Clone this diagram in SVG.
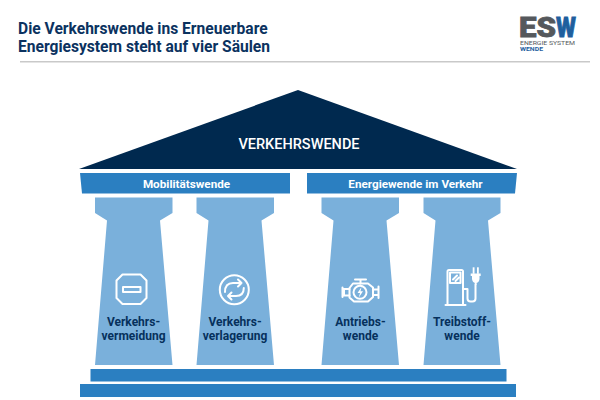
<svg xmlns="http://www.w3.org/2000/svg" width="600" height="400" viewBox="0 0 600 400">
<style>
text{font-family:Roboto,"Liberation Sans",sans-serif}
.title{font-size:15.6px;font-weight:700;fill:#0b3260}
.band{fill:#2b7fc1}
.pillar{fill:#7ab0db}
.bandt{font-size:11.700px;font-weight:700;fill:#fff;text-anchor:middle}
.lab{font-size:12px;font-weight:700;fill:#06305c;text-anchor:middle}
.ic{fill:none;stroke:#fff;stroke-width:2;stroke-linejoin:round;stroke-linecap:round}
.icf{fill:#fff}
</style>
<rect width="600" height="400" fill="#fff"/>
<g id="header">
<text class="title" x="18" y="34">Die Verkehrswende ins Erneuerbare</text>
<text class="title" x="18" y="52">Energiesystem steht auf vier Säulen</text>
<rect x="20" y="61" width="570" height="1.500" fill="#c9c9c9"/>
</g>
<g id="logo">
<text x="519" y="37" font-size="28" font-weight="900" fill="#55585c" stroke="#55585c" stroke-width=".8" textLength="37" lengthAdjust="spacingAndGlyphs">ES</text>
<text x="556" y="37" font-size="28" font-weight="900" fill="#1f5f9e" stroke="#1f5f9e" stroke-width=".8" textLength="20" lengthAdjust="spacingAndGlyphs">W</text>
<text x="520" y="45" font-size="5" fill="#55585c" textLength="55" lengthAdjust="spacingAndGlyphs">ENERGIE SYSTEM</text>
<text x="520" y="51" font-size="5" font-weight="700" fill="#1f5f9e" textLength="23" lengthAdjust="spacingAndGlyphs">WENDE</text>
</g>
<g id="roof">
<polygon points="298,90 517,169 79,169" fill="#00294f"/>
<text x="299" y="149" font-size="14.500" font-weight="500" fill="#fff" text-anchor="middle">VERKEHRSWENDE</text>
</g>
<g id="band-mobilitaet">
<polygon class="band" points="80,173 290,173 290,193.500 82,193.500"/>
<text class="bandt" x="186.500" y="187.500">Mobilitätswende</text>
</g>
<g id="band-energie">
<polygon class="band" points="307,173 517,173 515,193.500 307,193.500"/>
<text class="bandt" x="415.500" y="188">Energiewende im Verkehr</text>
</g>
<g id="pillar-1">
<path class="pillar" d="M95 197.500H172.500V213L160 220.500L172.500 365H95L107 220.500L95 213Z"/>
<polygon class="ic" points="122.500,274.500 140.500,274.500 146.500,280.500 146.500,298 140.500,304 122.500,304 116.500,298 116.500,280.500"/>
<rect class="ic" x="123" y="287" width="17.500" height="5" stroke-width="1.600"/>
<text class="lab"><tspan x="133.500" y="325.500">Verkehrs-</tspan><tspan x="133.500" y="339.500">vermeidung</tspan></text>
</g>
<g id="pillar-2">
<path class="pillar" d="M196.500 197.500H274V213L261.500 220.500L274 365H196.500L208.500 220.500L196.500 213Z"/>
<circle class="ic" cx="234.300" cy="289.700" r="14.500" stroke-width="2.400"/>
<path class="ic" d="M225 292C225 286 228 283 233 283H241.500M238 279.500L241.500 283L238 286.500" stroke-width="2"/>
<path class="ic" d="M243.800 288C243.800 293 241 296 236 296H228M231.500 292.500L228 296L231.500 299.500" stroke-width="2"/>
<text class="lab"><tspan x="235" y="325.500">Verkehrs-</tspan><tspan x="235" y="339.500">verlagerung</tspan></text>
</g>
<g id="pillar-3">
<path class="pillar" d="M321.500 197.500H399V213L386.500 220.500L399 365H321.500L333.500 220.500L321.500 213Z"/>
<path class="ic" d="M349.500 288L353 283.500H368L373 287.500V297L368 301.500H354L349.500 297.500V288Z" stroke-width="1.800"/>
<path class="ic" d="M349.500 289H344V295.500H349.500M342.500 287.500V297M373 289.500H378.500M373 295H378.500M378.500 286.500V298" stroke-width="1.700"/>
<path class="ic" d="M355 279.500H366M360.500 279.500V283.500" stroke-width="2"/>
<circle class="ic" cx="360" cy="292.300" r="6.500" stroke-width="1.400"/>
<path class="icf" d="M361.500 287L357.500 293H360L358.800 297.500L363 291.300H360.500Z"/>
<text class="lab"><tspan x="360.500" y="325.500">Antriebs-</tspan><tspan x="360.500" y="339.500">wende</tspan></text>
</g>
<g id="pillar-4">
<path class="pillar" d="M423.500 197.500H500.500V213L488 220.500L500.500 365H423.500L435.500 220.500L423.500 213Z"/>
<path class="ic" d="M447.500 304.500V271.500Q447.500 270 449 270H461.500Q463 270 463 271.500V304.500M445.500 305H465.500" stroke-width="1.800"/>
<rect class="ic" x="450" y="272.500" width="10.500" height="10.500" stroke-width="1.300"/>
<path class="ic" d="M453 279.500L457 275.500M455.500 281L459 277.500" stroke-width="1.200"/>
<path class="ic" d="M463.500 289H467.500V298.500Q467.500 301.500 470.500 301.500H472.500Q475.500 301.500 475.500 298.500V284" stroke-width="1.500"/>
<path class="icf" d="M470.700 273.500H480.700V276H479.500V279Q479 282.500 476.500 283V285H475V283Q472.500 282.500 472 279V276H470.700Z"/>
<rect class="icf" x="472.700" y="267.300" width="1.800" height="6.500"/>
<rect class="icf" x="477" y="267.300" width="1.800" height="6.500"/>
<text class="lab"><tspan x="462" y="325.500">Treibstoff-</tspan><tspan x="462" y="339.500">wende</tspan></text>
</g>
<g id="base">
<rect class="band" x="90.500" y="369" width="416" height="12.500"/>
<rect class="band" x="80" y="384" width="436" height="13"/>
</g>
<g id="connectors"/>
</svg>
